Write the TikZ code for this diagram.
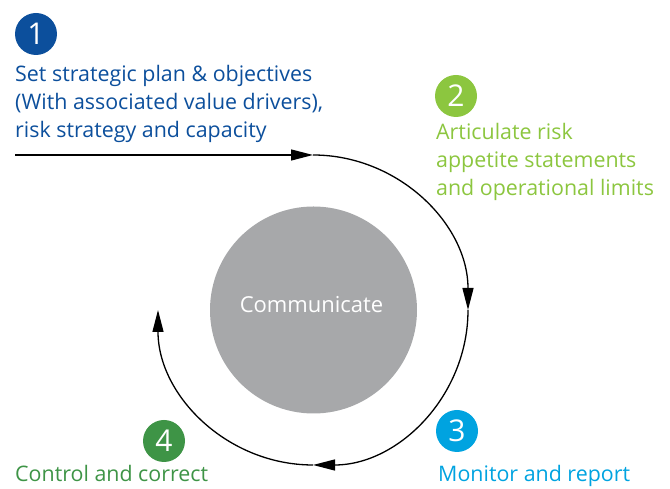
\documentclass[tikz,border=0pt]{standalone}
\usepackage{fontspec}
\setmainfont{Open Sans}
\usetikzlibrary{arrows.meta}
\definecolor{cone}{HTML}{0C4F9C}
\definecolor{ctwo}{HTML}{8CC63F}
\definecolor{cthree}{HTML}{00A3E0}
\definecolor{cfour}{HTML}{3E9446}
\definecolor{cgray}{HTML}{A7A8AA}
\begin{document}
\begin{tikzpicture}[x=1pt,y=1pt,
  numdot/.style={circle,minimum size=42pt,inner sep=0pt,text=white,font=\fontsize{30}{30}\selectfont},
  lbl/.style={anchor=base west,inner sep=0pt,font=\fontsize{21.4}{28}\selectfont},
  arr/.style={line width=1.3pt,-{Triangle[length=22pt,width=11pt]}}]
\useasboundingbox (0,0) rectangle (670,489);
% center
\node[circle,fill=cgray,minimum size=207pt,inner sep=0pt] (hub) at (313.5,179) {};
\node[anchor=base,inner sep=0pt,text=white,font=\fontsize{22}{24}\selectfont] (comm) at (311.5,176) {Communicate};
% step 1
\node[numdot,fill=cone] (n1) at (36,455) {1};
\node[lbl,text=cone] (t1a) at (15,407) {Set strategic plan \& objectives};
\node[lbl,text=cone] (t1b) at (15,379) {(With associated value drivers),};
\node[lbl,text=cone] (t1c) at (15,351) {risk strategy and capacity};
% step 2
\node[numdot,fill=ctwo] (n2) at (456,393) {2};
\node[lbl,text=ctwo] (t2a) at (436,349) {Articulate risk};
\node[lbl,text=ctwo] (t2b) at (436,321) {appetite statements};
\node[lbl,text=ctwo] (t2c) at (436,293) {and operational limits};
% step 3
\node[numdot,fill=cthree] (n3) at (457,58) {3};
\node[lbl,text=cthree] (t3) at (438,7) {Monitor and report};
% step 4
\node[numdot,fill=cfour] (n4) at (164,48) {4};
\node[lbl,text=cfour] (t4) at (15,7) {Control and correct};
% cycle
\coordinate (start) at (15,334);
\coordinate (top) at (313,334);
\coordinate (right) at (468,179);
\coordinate (bottom) at (313,24);
\coordinate (left) at (158,179);
\draw[arr] (start) -- (top);
\draw[arr] (top) arc[start angle=90,end angle=0,radius=155];
\draw[arr] (right) arc[start angle=0,end angle=-90,radius=155];
\draw[arr] (bottom) arc[start angle=270,end angle=180,radius=155];
\end{tikzpicture}
\end{document}
